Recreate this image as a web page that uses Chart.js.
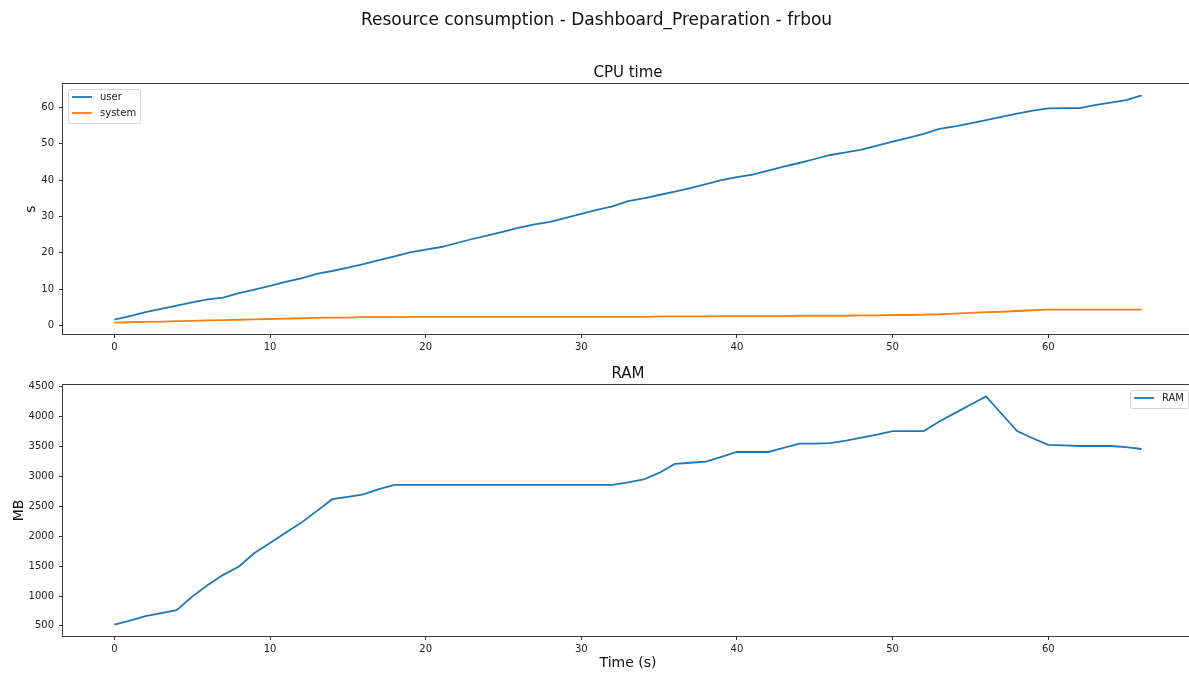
<!DOCTYPE html>
<html>
<head>
<meta charset="utf-8">
<title>Resource consumption</title>
<script src="https://cdn.jsdelivr.net/npm/chart.js@4.4.1/dist/chart.umd.min.js"></script>
<style>
  html, body { margin: 0; padding: 0; background: #fff; overflow: hidden; }
  body { width: 1189px; height: 675px; position: relative; }
  canvas { position: absolute; left: 0; }
  #cpu-chart { top: 0; width: 1220px; height: 360px; }
  #ram-chart { top: 360px; width: 1220px; height: 315px; }
</style>
</head>
<body>
<canvas id="cpu-chart" width="1220" height="360"></canvas>
<canvas id="ram-chart" width="1220" height="315"></canvas>
<script>
// sample times (s)
const seconds = [
  0, 1, 2, 3, 4, 5, 6, 7, 8, 9,
  10, 11, 12, 13, 14, 15, 16, 17, 18, 19,
  20, 21, 22, 23, 24, 25, 26, 27, 28, 29,
  30, 31, 32, 33, 34, 35, 36, 37, 38, 39,
  40, 41, 42, 43, 44, 45, 46, 47, 48, 49,
  50, 51, 52, 53, 54, 55, 56, 57, 58, 59,
  60, 61, 62, 63, 64, 65, 66
];
// cumulated cpu time (s)
const user_cpu = [
  1.6, 2.6, 3.7, 4.6, 5.5, 6.4, 7.2, 7.7, 8.9, 9.9,
  10.9, 12.0, 13.0, 14.2, 15.0, 15.9, 16.9, 18.0, 19.0, 20.1,
  20.9, 21.6, 22.7, 23.8, 24.8, 25.8, 26.9, 27.8, 28.5, 29.6,
  30.7, 31.8, 32.8, 34.2, 35.0, 35.9, 36.8, 37.8, 38.9, 40.0,
  40.8, 41.5, 42.6, 43.7, 44.7, 45.8, 46.9, 47.6, 48.4, 49.5,
  50.6, 51.6, 52.7, 54.1, 54.8, 55.6, 56.5, 57.4, 58.3, 59.1,
  59.7, 59.8, 59.8, 60.6, 61.3, 62.0, 63.3
];
const system_cpu = [
  0.8, 0.9, 1.0, 1.1, 1.2, 1.3, 1.4, 1.5, 1.6, 1.7,
  1.8, 1.9, 2.0, 2.1, 2.2, 2.2, 2.3, 2.3, 2.3, 2.4,
  2.4, 2.4, 2.4, 2.4, 2.4, 2.4, 2.4, 2.4, 2.4, 2.4,
  2.4, 2.4, 2.4, 2.4, 2.4, 2.5, 2.5, 2.5, 2.5, 2.6,
  2.6, 2.6, 2.6, 2.6, 2.7, 2.7, 2.7, 2.7, 2.8, 2.8,
  2.9, 2.9, 3.0, 3.1, 3.3, 3.5, 3.7, 3.8, 4.0, 4.2,
  4.4, 4.4, 4.4, 4.4, 4.4, 4.4, 4.4
];
// memory used (MB)
const ram_mb = [
  522, 590, 663, 715, 765, 990, 1186, 1354, 1494, 1719,
  1887, 2060, 2224, 2421, 2620, 2660, 2700, 2790, 2860, 2860,
  2860, 2860, 2860, 2860, 2860, 2860, 2860, 2860, 2860, 2860,
  2860, 2860, 2860, 2900, 2950, 3060, 3210, 3230, 3250, 3330,
  3410, 3410, 3410, 3480, 3550, 3550, 3560, 3600, 3650, 3700,
  3760, 3760, 3760, 3920, 4060, 4200, 4340, 4050, 3760, 3640,
  3530, 3520, 3510, 3510, 3510, 3490, 3460
];

// tick positions
const time_ticks = [0, 10, 20, 30, 40, 50, 60];
const cpu_ticks = [0, 10, 20, 30, 40, 50, 60];
const ram_ticks = [500, 1000, 1500, 2000, 2500, 3000, 3500, 4000, 4500];

const font_family = '"DejaVu Sans", sans-serif';
const blue = '#1f77b4';
const orange = '#ff7f0e';

// axis range with a 5% margin on both sides
function padded_range(values) {
  let lo = Math.min(...values);
  let hi = Math.max(...values);
  let m = (hi - lo) * 0.05;
  return [lo - m, hi + m];
}

function points(ys) {
  return seconds.map((t, i) => ({ x: t, y: ys[i] }));
}

let x_range = padded_range(seconds);
let cpu_range = padded_range(user_cpu.concat(system_cpu));
let ram_range = padded_range(ram_mb);

// box around the plot area
const axes_frame = {
  id: 'axesFrame',
  afterDraw(chart) {
    let a = chart.chartArea;
    let ctx = chart.ctx;
    ctx.save();
    ctx.strokeStyle = '#3a3a3a';
    ctx.lineWidth = 1;
    ctx.strokeRect(Math.round(a.left) - 0.5, Math.round(a.top) - 0.5,
      Math.round(a.right - a.left) + 1, Math.round(a.bottom - a.top) + 1);
    ctx.restore();
  }
};

// small framed legend inside the plot area
const box_legend = {
  id: 'boxLegend',
  afterDraw(chart, args, opts) {
    if (!opts || !opts.side) return;
    let ctx = chart.ctx;
    let a = chart.chartArea;
    let sets = chart.data.datasets;
    ctx.save();
    ctx.font = '10px ' + font_family;
    let text_w = Math.max(...sets.map(d => ctx.measureText(d.label).width));
    let pad = 4, row_h = 16;
    let w = pad + 20 + 8 + text_w + pad;
    let h = 8 + row_h * (sets.length - 1) + 10;
    let left = opts.side === 'left' ? a.left + 5 : a.right - 5 - w;
    let top = a.top + 5;
    ctx.fillStyle = 'rgba(255,255,255,0.8)';
    ctx.strokeStyle = '#d4d4d4';
    ctx.lineWidth = 1;
    ctx.beginPath();
    ctx.roundRect(Math.round(left) + 0.5, Math.round(top) + 0.5, Math.round(w), Math.round(h), 2);
    ctx.fill();
    ctx.stroke();
    sets.forEach((d, i) => {
      let y = top + 8 + i * row_h;
      ctx.strokeStyle = d.borderColor;
      ctx.lineWidth = d.borderWidth;
      ctx.beginPath();
      ctx.moveTo(left + pad, y);
      ctx.lineTo(left + pad + 20, y);
      ctx.stroke();
      ctx.fillStyle = '#222';
      ctx.textBaseline = 'middle';
      ctx.fillText(d.label, left + pad + 28, y);
    });
    ctx.restore();
  }
};

function fixed_ticks(list) {
  return scale => { scale.ticks = list.map(v => ({ value: v })); };
}

function x_scale(height, title) {
  return {
    type: 'linear',
    min: x_range[0],
    max: x_range[1],
    afterBuildTicks: fixed_ticks(time_ticks),
    afterFit: scale => { scale.height = height; },
    border: { display: false },
    grid: { drawOnChartArea: false, tickLength: 4, tickColor: '#333' },
    ticks: { padding: 3, maxRotation: 0, autoSkip: false, callback: v => String(v),
      color: '#222', font: { family: font_family, size: 10 } },
    title: title
  };
}

function y_scale(range, list, title_text, title_pad) {
  return {
    min: range[0],
    max: range[1],
    afterBuildTicks: fixed_ticks(list),
    afterFit: scale => { scale.width = 63; },
    border: { display: false },
    grid: { drawOnChartArea: false, tickLength: 4, tickColor: '#333' },
    ticks: { padding: 5, autoSkip: false, callback: v => String(v),
      color: '#222', font: { family: font_family, size: 10 } },
    title: { display: true, text: title_text, color: '#111',
      padding: { top: title_pad, bottom: 0 },
      font: { family: font_family, size: 14 } }
  };
}

// cpu time chart
let cpu_chart = new Chart(document.getElementById('cpu-chart'), {
  type: 'line',
  data: {
    datasets: [
      { label: 'user', data: points(user_cpu), borderColor: blue, backgroundColor: blue, borderWidth: 1.8 },
      { label: 'system', data: points(system_cpu), borderColor: orange, backgroundColor: orange, borderWidth: 1.8 }
    ]
  },
  options: {
    responsive: false,
    animation: false,
    layout: { padding: { left: 0, right: 27, top: 0, bottom: 0 } },
    elements: { point: { radius: 0 }, line: { tension: 0 } },
    plugins: {
      legend: { display: false },
      tooltip: { enabled: false },
      title: {
        display: true,
        text: 'Resource consumption - Dashboard_Preparation - frbou',
        color: '#111',
        padding: { top: 10, bottom: 20 },
        font: { family: font_family, size: 17, weight: 'normal' }
      },
      subtitle: {
        display: true,
        text: 'CPU time',
        fullSize: false,
        color: '#111',
        padding: { top: 13.6, bottom: 2 },
        font: { family: font_family, size: 15, weight: 'normal' }
      },
      boxLegend: { side: 'left' }
    },
    scales: {
      x: x_scale(26, { display: false }),
      y: y_scale(cpu_range, cpu_ticks, 's', 22.6)
    }
  },
  plugins: [axes_frame, box_legend]
});

// ram chart
let ram_chart = new Chart(document.getElementById('ram-chart'), {
  type: 'line',
  data: {
    datasets: [
      { label: 'RAM', data: points(ram_mb), borderColor: blue, backgroundColor: blue, borderWidth: 1.8 }
    ]
  },
  options: {
    responsive: false,
    animation: false,
    layout: { padding: { left: 0, right: 27, top: 0, bottom: 0 } },
    elements: { point: { radius: 0 }, line: { tension: 0 } },
    plugins: {
      legend: { display: false },
      tooltip: { enabled: false },
      title: {
        display: true,
        text: 'RAM',
        fullSize: false,
        color: '#111',
        padding: { top: 5, bottom: 2 },
        font: { family: font_family, size: 15, weight: 'normal' }
      },
      boxLegend: { side: 'right' }
    },
    scales: {
      x: x_scale(39, { display: true, text: 'Time (s)', color: '#111',
        padding: { top: 0, bottom: 3.6 }, font: { family: font_family, size: 14 } }),
      y: y_scale(ram_range, ram_ticks, 'MB', 11.3)
    }
  },
  plugins: [axes_frame, box_legend]
});
</script>
</body>
</html>
